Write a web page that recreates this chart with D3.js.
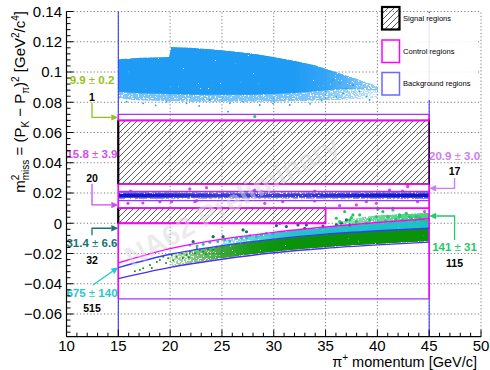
<!DOCTYPE html>
<html><head><meta charset="utf-8">
<script src="https://cdn.jsdelivr.net/npm/d3@7"></script>
<style>
body{margin:0;background:#fff}
svg{display:block}
text{font-family:"Liberation Sans",Arial,Helvetica,sans-serif}
</style>
</head><body>
<svg id="c" width="490" height="370"></svg>
<script>
// ---------------- data ----------------
const xMajorTicks = [10,15,20,25,30,35,40,45,50];
const xTickLabels = ["10","15","20","25","30","35","40","45","50"];
const yMajorTicks = [-0.06,-0.04,-0.02,0,0.02,0.04,0.06,0.08,0.1,0.12,0.14];
const yTickLabels = ["\u22120.06","\u22120.04","\u22120.02","0","0.02","0.04","0.06","0.08","0.1","0.12","0.14"];

// region boundaries [pMin, pMax, m2Low, m2High]
const signalRegion1 = [15, 35, 0, 0.01];
const signalRegion2 = [15, 45, 0.026, 0.068];
const kpi2Background = [15, 45, 0.015, 0.021];
const kpi2Control = [15, 45, 0.01, 0.026];
const pipiControl = [15, 45, 0.068, 0.072];
const lowerControlLevel = -0.05;
const momentumCut = [15, 45];

// Kmu2 boundary curves
const curveP     = [15, 20, 25, 30, 35, 40, 45];
const kmu2Upper  = [-0.0262, -0.0168, -0.0105, -0.0060, -0.0025, 0.0005, 0.0030];
const kmu2Middle = [-0.0293, -0.0205, -0.0148, -0.0105, -0.0072, -0.0050, -0.0033];
const kmu2Lower  = [-0.0366, -0.0292, -0.0238, -0.0195, -0.0165, -0.0143, -0.0125];

// K->3pi cloud envelope
const cloudP       = [15, 17, 19.9, 20.1, 22, 24, 26, 28, 30, 32, 34, 36, 38, 40, 41.3];
const cloudTop     = [0.1085,0.1095,0.1100,0.1165,0.1160,0.1150,0.1138,0.1122,0.1100,0.1075,0.1045,0.1000,0.0955,0.0905,0.0865];
const cloudCoreLow = [0.0870,0.0860,0.0855,0.0855,0.0850,0.0850,0.0850,0.0850,0.0855,0.0862,0.0872,0.0885,0.0890,0.0880,0.0860];
const cloudEdgeLow = [0.0825,0.0812,0.0808,0.0808,0.0803,0.0803,0.0803,0.0803,0.0803,0.0806,0.0810,0.0815,0.0820,0.0828,0.0840];
const cloudDensP   = [15, 32, 35, 37, 39, 41.3];
const cloudDens    = [1, 1, 0.9, 0.75, 0.55, 0.4];
const cloudSparse = [[15.80,0.0804],[17.40,0.0793],[19.66,0.0804],[21.59,0.0793],[23.83,0.0815],[25.76,0.0793],
  [27.04,0.0804],[28.65,0.0782],[29.93,0.0793],[31.54,0.0782],[25.60,0.0738],[35.72,0.0947],[36.36,0.0925],
  [37.01,0.0892],[37.64,0.0914],[38.29,0.0870],[38.93,0.0837],[39.25,0.0815],[36.68,0.0859],[36.04,0.0837],
  [41.18,0.0826],[33.5,0.0790],[34.6,0.0812],[18.6,0.0780],[22.8,0.0776],[40.2,0.0862]];

// K->pi pi0 band
const kpiDensP = [15, 18, 21, 24, 27, 30, 33, 36, 39, 42, 45];
const kpiDens  = [1, 0.97, 0.85, 0.75, 0.7, 0.7, 0.75, 0.82, 0.92, 0.98, 1];
const kpiCore  = [0.0170, 0.0197];
const kpiHalo  = [0.0158, 0.0209];

// Kmu2 band densities
const greenDensP = [19, 22, 25, 28, 31, 45];
const greenDens  = [0.2, 0.5, 0.8, 0.95, 1, 1];
const cyanDensP  = [23, 26, 29, 32, 45];
const cyanDens   = [0.2, 0.5, 0.8, 0.97, 1];
const lightGreenP   = [36, 39, 42, 45];
const lightGreenTop = [0.0005, 0.0045, 0.0060, 0.0070];
const lightGreenDens = [0.45, 0.65, 0.75, 0.85];

// sparse events
const controlPoints = [[16.19,0.0213],[21.90,0.0227],[23.51,0.0235],[28.00,0.0213],[28.81,0.0209],[33.95,0.0213],
  [41.18,0.0220],[42.43,0.0213],[42.92,0.0242],[15.93,0.0132],[17.37,0.0134],[22.39,0.0143],[29.13,0.0132],
  [30.87,0.0143],[33.95,0.0147],[36.36,0.0116],[37.97,0.0121],[39.90,0.0132],[43.88,0.0143],[19.01,0.0143],
  [20.14,0.0143],[38.93,0.0143],[42.94,0.0253],[44.55,0.0077],[28.17,0.0220],[22.55,0.0149]];
const tealPoints = [[22.22,-0.0122],[24.15,-0.0089],[25.11,-0.0089],[27.04,-0.0044],[27.37,-0.0056],[30.26,-0.0015],
  [31.22,-0.0022],[32.99,-0.0033],[33.15,-0.0011],[34.75,-0.0018],[36.04,-0.0011],[36.53,0.0000],[32.34,-0.0011],
  [30.58,0.0000],[37.01,0.0022],[37.33,-0.0011]];
const lightGreenPoints = [[36.84,0.0077],[38.29,0.0055],[39.25,0.0022],[39.90,0.0044],[40.53,0.0077],[41.02,0.0044],
  [41.50,0.0088],[42.14,0.0055],[42.79,0.0066],[43.27,0.0033],[43.75,0.0044],[44.39,0.0022],[44.72,0.0011],
  [37.97,0.0011],[38.93,0.0000],[37.49,0.0037],[36.04,0.0033],[36.36,0.0011],[37.64,0.0055],[40.05,0.0093],
  [42.14,0.0044],[43.11,0.0044],[37.33,0.0022],[44.07,0.0035],[41.76,0.0028],[40.80,0.0015],[43.59,0.0015],
  [42.43,0.0019],[28.17,0.0705],[40.05,0.0098],[41.5,0.0098]];
const cyanPoints = [[21.90,-0.0143],[23.19,-0.0139],[23.83,-0.0126],[25.27,-0.0110],[25.76,-0.0117],[26.40,-0.0099],
  [26.89,-0.0099],[27.37,-0.0095],[27.69,-0.0082],[28.33,-0.0089],[28.81,-0.0077],[29.30,-0.0066],[29.93,-0.0073],
  [24.6,-0.0120],[22.6,-0.0150]];
const greenPoints = [[17.08,-0.0309],[17.40,-0.0297],[18.05,-0.0276],[19.01,-0.0243],[19.33,-0.0221],[19.81,-0.0231],
  [20.14,-0.0210],[20.62,-0.0221],[21.10,-0.0198],[21.59,-0.0210],[21.90,-0.0188],[22.39,-0.0198],[22.87,-0.0176],
  [23.19,-0.0188],[23.67,-0.0170],[24.15,-0.0176],[24.48,-0.0155],[18.24,-0.0295],[18.72,-0.0256],[21.23,-0.0229],
  [22.58,-0.0163],[23.45,-0.0203],[20.3,-0.0245],[21.8,-0.0225],[19.6,-0.0262],[16.6,-0.0318]];

// annotations
const annValues = ["9.9 \u00b1 0.2","15.8 \u00b1 3.9","31.4 \u00b1 6.6","675 \u00b1 140","20.9 \u00b1 3.0","141 \u00b1 31"];
const annCounts = ["1","20","32","515","17","115"];
const annP      = [12.46, 12.46, 12.46, 12.46, 47.45, 47.45];
const annValueM = [0.0947, 0.0458, -0.0132, -0.0463, 0.0447, -0.0155];
const annCountM = [0.0834, 0.0299, -0.0243, -0.0562, 0.0346, -0.0264];
const annArrows = [
  [[12.46,0.0795],[12.46,0.0700],[15,0.0700]],
  [[12.46,0.0262],[12.46,0.0121],[15,0.0121]],
  [[12.46,-0.0080],[12.46,-0.0033],[15,-0.0033]],
  [[12.55,-0.0408],[15,-0.0291]],
  [[47.45,0.0300],[47.45,0.0231],[45,0.0231]],
  [[47.45,-0.0110],[47.45,0.0048],[45,0.0048]]
];
const annColors = ["#93c21a","#d04ef0","#137571","#1fc9cf","#cf7bef","#23c96a"];

const legendLabels = ["Signal regions","Control regions","Background regions"];

// ---------------- drawing ----------------
const svg = d3.select("#c");
const x = d3.scaleLinear().domain([10,50]).range([66.5,481]);
const y = d3.scaleLinear().domain([-0.075,0.14]).range([336.7,11.5]);
const defs = svg.append("defs");

const hatch = defs.append("pattern").attr("id","hatch").attr("patternUnits","userSpaceOnUse")
  .attr("width",6).attr("height",6);
hatch.append("path").attr("d","M-1,1 l2,-2 M0,6 l6,-6 M5,7 l2,-2")
  .attr("stroke","#2a2a2a").attr("stroke-width",0.75);

// speckle texture for dense event clouds
const f = defs.append("filter").attr("id","speckle").attr("filterUnits","userSpaceOnUse")
  .attr("x",0).attr("y",0).attr("width",490).attr("height",370).attr("color-interpolation-filters","sRGB");
f.append("feTurbulence").attr("type","fractalNoise").attr("baseFrequency",0.6).attr("numOctaves",1)
  .attr("seed",7).attr("result","noise");
f.append("feColorMatrix").attr("in","noise").attr("type","matrix")
  .attr("values","0 0 0 0 0  0 0 0 0 0  0 0 0 0 0  2.6 0 0 0 -1.05").attr("result","nA");
f.append("feComposite").attr("in","SourceAlpha").attr("in2","nA").attr("operator","arithmetic")
  .attr("k1",0).attr("k2",10).attr("k3",-10).attr("k4",0).attr("result","mask");
f.append("feColorMatrix").attr("in","SourceGraphic").attr("type","matrix")
  .attr("values","1 0 0 0 0  0 1 0 0 0  0 0 1 0 0  0 0 0 0 1").attr("result","solid");
f.append("feComposite").attr("in","solid").attr("in2","mask").attr("operator","in").attr("result","sp");
f.append("feComposite").attr("in","sp").attr("in2","SourceAlpha").attr("operator","in");

function densGrad(id, ps, ds, color, p0, p1){
  const g = defs.append("linearGradient").attr("id",id).attr("gradientUnits","userSpaceOnUse")
    .attr("x1",x(p0)).attr("x2",x(p1)).attr("y1",0).attr("y2",0);
  ps.forEach((p,i)=>g.append("stop").attr("offset",(p-p0)/(p1-p0))
    .attr("stop-color",color).attr("stop-opacity",ds[i]));
}
densGrad("gCloud", cloudDensP, cloudDens, "#1e9bf5", 15, 41.3);
densGrad("gKpi", kpiDensP, kpiDens, "#1212d4", 15, 45);
densGrad("gGreen", greenDensP, greenDens, "#0a930a", 19, 45);
densGrad("gCyan", cyanDensP, cyanDens, "#19c3c6", 23, 45);
densGrad("gLight", lightGreenP, lightGreenDens, "#22c866", 36, 45);

// grid
const grid = svg.append("g").attr("stroke","#444").attr("stroke-width",0.7).attr("stroke-dasharray","1.2,2.2");
xMajorTicks.filter(v=>v>10).forEach(v=>grid.append("line")
  .attr("x1",x(v)).attr("x2",x(v)).attr("y1",y(-0.075)).attr("y2",y(0.14)));
yMajorTicks.forEach(v=>grid.append("line")
  .attr("x1",x(10)).attr("x2",x(50)).attr("y1",y(v)).attr("y2",y(v)));

// dense event regions (speckled)
const dense = svg.append("g").attr("filter","url(#speckle)");
const area = d3.area().x(d=>x(d[0])).y0(d=>y(d[1])).y1(d=>y(d[2]));
const cloudEdge = cloudP.map((p,i)=>[p, cloudEdgeLow[i], cloudCoreLow[i]+0.0005]);
const cloudCore = cloudP.map((p,i)=>[p, cloudCoreLow[i], cloudTop[i]]);
dense.append("path").attr("d",area(cloudEdge)).attr("fill","url(#gCloud)").attr("fill-opacity",0.6);
dense.append("path").attr("d",area(cloudCore)).attr("fill","url(#gCloud)");

dense.append("rect").attr("x",x(15)).attr("width",x(45)-x(15))
  .attr("y",y(kpiHalo[1])).attr("height",y(kpiHalo[0])-y(kpiHalo[1])).attr("fill","url(#gKpi)").attr("fill-opacity",0.5);
dense.append("rect").attr("x",x(15)).attr("width",x(45)-x(15))
  .attr("y",y(kpiCore[1])).attr("height",y(kpiCore[0])-y(kpiCore[1])).attr("fill","url(#gKpi)");

const curveArea = d3.area().x(d=>x(d[0])).y0(d=>y(d[1])).y1(d=>y(d[2])).curve(d3.curveMonotoneX);
const greenBand = curveP.map((p,i)=>[p, kmu2Lower[i]+0.0006, kmu2Middle[i]]).filter(d=>d[0]>=20);
dense.append("path").attr("d",curveArea(greenBand)).attr("fill","url(#gGreen)");
const cyanBand = curveP.map((p,i)=>[p, kmu2Middle[i], kmu2Upper[i]-0.0003]).filter(d=>d[0]>=25);
dense.append("path").attr("d",curveArea(cyanBand)).attr("fill","url(#gCyan)");
const upperAt = p => d3.scaleLinear().domain(curveP).range(kmu2Upper)(p);
dense.append("path").attr("d",curveArea(lightGreenP.map((p,i)=>[p, upperAt(p), lightGreenTop[i]])))
  .attr("fill","url(#gLight)");

// sparse events
const data = svg.append("g");
function dots(arr, r, color){
  arr.forEach(d=>data.append("circle").attr("cx",x(d[0])).attr("cy",y(d[1])).attr("r",r).attr("fill",color));
}
dots(cloudSparse, 0.9, "#1e9bf5");
dots(greenPoints, 1.0, "#0a930a");
dots(cyanPoints, 1.5, "#19c3c6");
dots(controlPoints, 1.6, "#cc4fef");
dots(tealPoints, 1.6, "#0d6e6c");
dots(lightGreenPoints, 1.6, "#22c866");

// region lines
const reg = svg.append("g").attr("fill","none");
function vline(p, m0, m1, color, w){
  reg.append("line").attr("x1",x(p)).attr("x2",x(p)).attr("y1",y(m0)).attr("y2",y(m1))
    .attr("stroke",color).attr("stroke-width",w);
}
function hline(m, p0, p1, color, w){
  reg.append("line").attr("x1",x(p0)).attr("x2",x(p1)).attr("y1",y(m)).attr("y2",y(m))
    .attr("stroke",color).attr("stroke-width",w);
}
const BLUE="#3a3aff", MAG="#ff00ff", PURP="#a733f5";
momentumCut.forEach(p=>vline(p, -0.075, 0.14, BLUE, 1.1));
momentumCut.forEach(p=>vline(p, lowerControlLevel, pipiControl[3], MAG, 1.5));
[signalRegion2, signalRegion1].forEach(r=>{
  reg.append("rect").attr("x",x(r[0])).attr("y",y(r[3])).attr("width",x(r[1])-x(r[0]))
    .attr("height",y(r[2])-y(r[3])).attr("fill","url(#hatch)").attr("stroke","#000").attr("stroke-width",1.2);
  reg.append("line").attr("x1",x(r[0])).attr("x2",x(r[0])).attr("y1",y(r[3])).attr("y2",y(r[2]))
    .attr("stroke","#000").attr("stroke-width",2);
});
hline(pipiControl[3], 15, 45, PURP, 1.4);
hline(pipiControl[2], 15, 45, MAG, 2);
hline(kpi2Control[3], 15, 45, MAG, 1.6);
hline(kpi2Background[3], 15, 45, PURP, 1.3);
hline(kpi2Background[2], 15, 45, PURP, 1.3);
hline(kpi2Control[2], 15, 45, MAG, 1.6);
hline(signalRegion1[2], signalRegion1[0], signalRegion1[1], MAG, 2);
vline(signalRegion1[1], signalRegion1[2], signalRegion1[3], MAG, 1.4);
hline(lowerControlLevel, 15, 45, PURP, 1.4);
const cl = d3.line().x(d=>x(d[0])).y(d=>y(d[1])).curve(d3.curveMonotoneX);
reg.append("path").attr("d",cl(curveP.map((p,i)=>[p,kmu2Lower[i]]))).attr("stroke","#4b2cf0").attr("stroke-width",1.4);
reg.append("path").attr("d",cl(curveP.map((p,i)=>[p,kmu2Middle[i]]))).attr("stroke","#3a3aff").attr("stroke-width",1.4);
reg.append("path").attr("d",cl(curveP.map((p,i)=>[p,kmu2Upper[i]]))).attr("stroke",MAG).attr("stroke-width",1.4);

// watermark
svg.append("text").attr("transform","translate(132,268) rotate(-29)")
  .attr("font-size",29).attr("font-weight","bold").attr("fill","#d8d8d8").attr("opacity",0.5)
  .text("NA62 Preliminary");

// annotations
const ann = svg.append("g");
annValues.forEach((t,i)=>{
  const tx = ann.append("text").attr("x",x(annP[i])).attr("y",y(annValueM[i])).attr("dy","0.36em")
    .attr("text-anchor","middle").attr("font-size",11.5).attr("font-weight","bold").attr("fill",annColors[i]);
  const parts = t.split("\u00b1");
  tx.append("tspan").text(parts[0]);
  tx.append("tspan").attr("font-weight","normal").text("\u00b1");
  tx.append("tspan").text(parts[1]);
  ann.append("text").attr("x",x(annP[i])).attr("y",y(annCountM[i])).attr("dy","0.36em")
    .attr("text-anchor","middle").attr("font-size",10.5).attr("font-weight","bold").attr("fill","#000")
    .text(annCounts[i]);
  const pts = annArrows[i].map(d=>[x(d[0]),y(d[1])]);
  const n = pts.length, a = pts[n-2], b = pts[n-1];
  const dx = b[0]-a[0], dy = b[1]-a[1], L = Math.hypot(dx,dy), ux = dx/L, uy = dy/L;
  const hl = 7, hw = 3.2;
  const base = [b[0]-ux*hl, b[1]-uy*hl];
  const linePts = pts.slice(0,n-1).concat([base]);
  ann.append("path").attr("d",d3.line()(linePts)).attr("fill","none").attr("stroke",annColors[i]).attr("stroke-width",1.3);
  ann.append("path").attr("d",d3.line()([b,[base[0]-uy*hw,base[1]+ux*hw],[base[0]+uy*hw,base[1]-ux*hw]])+"Z")
    .attr("fill",annColors[i]);
});

// axes
const ax = svg.append("g").attr("stroke","#000");
ax.append("line").attr("x1",x(10)).attr("x2",x(10)).attr("y1",y(-0.075)).attr("y2",y(0.14)).attr("stroke-width",1.2);
ax.append("line").attr("x1",x(10)).attr("x2",x(50)).attr("y1",y(-0.075)).attr("y2",y(-0.075)).attr("stroke-width",1.2);
d3.range(10,50.01,1).forEach(v=>{
  const major = xMajorTicks.includes(v);
  ax.append("line").attr("x1",x(v)).attr("x2",x(v)).attr("y1",y(-0.075)).attr("y2",y(-0.075)-(major?7:4)).attr("stroke-width",1);
});
d3.range(-0.072,0.1401,0.004).forEach(v=>{
  const major = yMajorTicks.some(t=>Math.abs(t-v)<1e-6);
  ax.append("line").attr("x1",x(10)).attr("x2",x(10)+(major?7:4)).attr("y1",y(v)).attr("y2",y(v)).attr("stroke-width",1);
});
const lab = svg.append("g").attr("font-size",15).attr("fill","#000");
xMajorTicks.forEach((v,i)=>lab.append("text").attr("x",x(v)).attr("y",351).attr("text-anchor","middle").text(xTickLabels[i]));
yMajorTicks.forEach((v,i)=>lab.append("text").attr("x",62).attr("y",y(v)).attr("dy","0.36em").attr("text-anchor","end").text(yTickLabels[i]));

// axis titles
const xt = svg.append("text").attr("x",477).attr("y",366.5).attr("text-anchor","end").attr("font-size",14.5);
xt.append("tspan").text("\u03c0");
xt.append("tspan").attr("font-size",10).attr("dy",-6).text("+");
xt.append("tspan").attr("dy",6).text(" momentum [GeV/c]");

const yt = svg.append("text").attr("transform","translate(25,11) rotate(-90)").attr("text-anchor","end").attr("font-size",15);
yt.append("tspan").text("m");
yt.append("tspan").attr("font-size",10).attr("dy",-6).text("2");
yt.append("tspan").attr("font-size",10).attr("dx",-5.6).attr("dy",10).text("miss");
yt.append("tspan").attr("dy",-4).text(" = (P");
yt.append("tspan").attr("font-size",10).attr("dy",4).text("K");
yt.append("tspan").attr("dy",-4).text(" \u2212 P");
yt.append("tspan").attr("font-size",10).attr("dy",4).text("\u03c0");
yt.append("tspan").attr("dy",-4).text(")");
yt.append("tspan").attr("font-size",10).attr("dy",-6).text("2");
yt.append("tspan").attr("dy",6).text(" [GeV");
yt.append("tspan").attr("font-size",10).attr("dy",-6).text("2");
yt.append("tspan").attr("dy",6).text("/c");
yt.append("tspan").attr("font-size",10).attr("dy",-6).text("4");
yt.append("tspan").attr("dy",6).text("]");

// legend
const lg = svg.append("g");
lg.append("rect").attr("x",378).attr("y",13).attr("width",100).attr("height",87).attr("fill","#fff").attr("opacity",0.88);
const legBoxY = [7, 40, 72.5];
const legStroke = ["#000", MAG, "#6a6aff"];
const legFill = ["url(#hatch)", "none", "none"];
const legW = [2.2, 1.5, 1.5];
legendLabels.forEach((t,i)=>{
  lg.append("rect").attr("x",382).attr("y",legBoxY[i]).attr("width",17.5).attr("height",22.5)
    .attr("fill",legFill[i]).attr("stroke",legStroke[i]).attr("stroke-width",legW[i]);
  lg.append("text").attr("x",403).attr("y",legBoxY[i]+11.25).attr("dy","0.36em").attr("font-size",7.6).text(t);
});
</script>
</body></html>
